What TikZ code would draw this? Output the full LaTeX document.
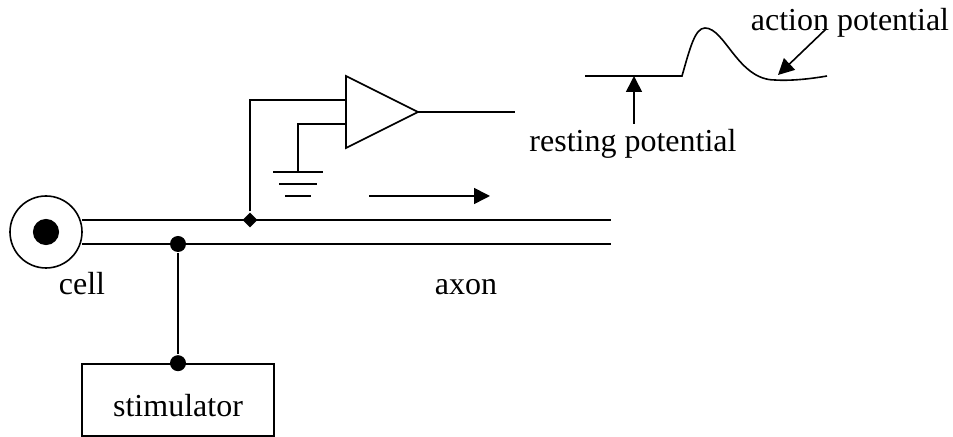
\documentclass[tikz,border=0pt]{standalone}
\usepackage{fontspec}
\setmainfont{Liberation Serif}
\usetikzlibrary{positioning}
\usetikzlibrary{arrows.meta}
\usetikzlibrary{shapes.geometric}
\tikzset{
	wire/.style = {line width = 0.6pt},
	pointer/.style = {wire, -{Triangle[length = 6pt,width = 6pt]}},
	label/.style = {anchor = base, inner sep = 0pt, font = \fontsize{12}{14}\selectfont},
	blob/.style = {circle, fill = black, inner sep = 0pt, minimum size = 6pt},
	tap/.style = {diamond, fill = black, inner sep = 0pt, minimum size = 5.8pt}
}
\begin{document}
\begin{tikzpicture}[x = 0.375pt, y = -0.375pt, wire]
	\useasboundingbox (0,0) rectangle (953,437);
	% cell and axon
	\node[circle, draw, wire, minimum size = 27pt, inner sep = 0pt] at (46,232) (cell) {};
	\node[blob, minimum size = 9.8pt] at (cell.center) (nucleus) {};
	\coordinate (ax1) at (82,220);
	\coordinate (ax2) at (82,244);
	\coordinate (ax1end) at (611,220);
	\coordinate (ax2end) at (611,244);
	\draw (ax1) -- (ax1end);
	\draw (ax2) -- (ax2end);
	\node[label] at (82,295) (lcell) {cell};
	\node[label] at (466,295) (laxon) {axon};
	% stimulator
	\node[draw, wire, rectangle, minimum width = 72pt, minimum height = 27pt, inner sep = 0pt] at (178,400) (stim) {};
	\node[label] at (178,417) (lstim) {stimulator};
	\node[blob] at (178,244) (s0) {};
	\node[blob] at (stim.north) (s1) {};
	\draw (s0) -- (s1);
	% amplifier
	\coordinate (a1) at (346,76);
	\coordinate (a2) at (346,148);
	\coordinate (aout) at (418,112);
	\coordinate (ain1) at (346,100);
	\coordinate (ain2) at (346,124);
	\coordinate (aend) at (515,112);
	\draw (a1) -- (aout) -- (a2) -- cycle;
	\draw (aout) -- (aend);
	\node[tap] at (250,220) (v0) {};
	\draw (v0) |- (ain1);
	% ground
	\coordinate (g0) at (298,172);
	\draw (g0) |- (ain2);
	\draw (273,172) -- (323,172);
	\draw (279,184) -- (317,184);
	\draw (285,196) -- (311,196);
	% direction of travel
	\coordinate (d0) at (369,196);
	\coordinate (d1) at (490,196);
	\draw[pointer] (d0) -- (d1);
	% trace
	\coordinate (t0) at (585,76);
	\coordinate (t1) at (682,76);
	\coordinate (tpk) at (705,28);
	\coordinate (t2) at (775,80);
	\coordinate (t3) at (827,76);
	\draw (t0) -- (t1) .. controls (690,48) and (695,28) .. (tpk)
		.. controls (725,28) and (738,80) .. (t2)
		.. controls (790,81) and (810,79) .. (t3);
	\node[label] at (633,152) (lrest) {resting potential};
	\node[label] at (850,31) (lact) {action potential};
	\coordinate (r0) at (634,124);
	\coordinate (r1) at (634,76);
	\coordinate (p0) at (826,29);
	\coordinate (p1) at (778,75);
	\draw[pointer] (r0) -- (r1);
	\draw[pointer] (p0) -- (p1);
\end{tikzpicture}
\end{document}
